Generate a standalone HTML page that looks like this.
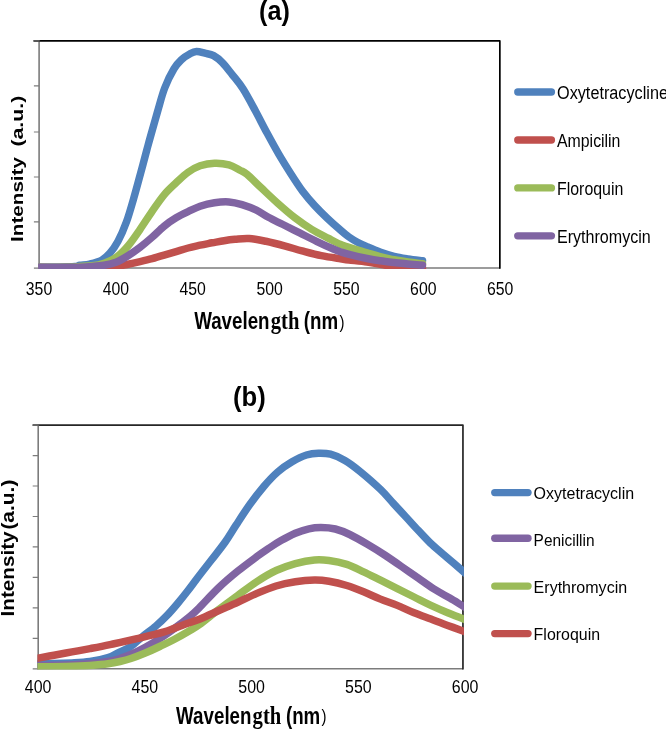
<!DOCTYPE html>
<html lang="en"><head><meta charset="utf-8"><title>Fluorescence spectra</title>
<style>html,body{margin:0;padding:0;background:#fff}svg{display:block}text{white-space:pre}g.t{opacity:.999}</style></head><body>
<svg width="666" height="729" viewBox="0 0 666 729">
<rect width="666" height="729" fill="#fff"/>
<defs><clipPath id="ca"><rect x="38.10" y="40.90" width="462.75" height="228.00"/></clipPath><clipPath id="cb"><rect x="37.40" y="425.10" width="426.55" height="244.30"/></clipPath></defs>
<g id="chart-a" class="t">
<text transform="translate(259.00 20.40) scale(1.2602 1.3586)" font-family='"Liberation Sans", sans-serif' font-size="20" font-weight="700" fill="#000">(a)</text>
<path d="M39.1 40.9V268.0H499.85" fill="none" stroke="#7c7c7c" stroke-width="1.6"/>
<path d="M33.6 40.9H499.85V268.7" fill="none" stroke="#000" stroke-width="1.7" stroke-linejoin="round"/>
<path d="M33.9 40.9H39.1M33.9 85.9H39.1M33.9 132.0H39.1M33.9 177.0H39.1M33.9 221.9H39.1M33.9 268.1H39.1" stroke="#7c7c7c" stroke-width="1.2" fill="none"/>
<path d="M33.6 40.9H40.1" stroke="#555" stroke-width="1.4" fill="none"/>
<g clip-path="url(#ca)">
<path d="M39.0 267.3C42.5 267.3 54.0 267.3 60.0 267.2C66.0 267.1 71.7 266.9 75.0 266.6C78.3 266.3 77.6 265.7 80.0 265.3C82.4 264.9 86.0 265.0 89.6 264.1C93.2 263.2 98.2 262.0 101.6 260.2C105.0 258.4 107.1 256.4 109.8 253.3C112.5 250.2 115.2 246.5 118.0 241.3C120.8 236.1 123.8 229.3 126.4 222.1C129.0 214.9 131.5 206.0 133.8 198.0C136.1 190.0 138.2 182.0 140.4 174.0C142.6 166.0 145.1 156.3 146.8 150.0C148.5 143.7 148.8 142.4 150.6 136.1C152.4 129.8 155.1 120.1 157.4 112.1C159.8 104.1 161.9 95.2 164.7 88.0C167.5 80.8 171.1 73.6 174.0 68.8C176.9 64.0 179.4 61.7 182.0 59.2C184.6 56.7 187.4 55.2 189.8 53.9C192.2 52.6 194.0 51.6 196.5 51.5C199.0 51.4 202.1 52.5 204.9 53.2C207.8 53.9 210.7 54.0 213.6 55.6C216.5 57.2 219.5 59.6 222.6 62.8C225.7 66.0 229.0 70.5 232.4 74.8C235.8 79.1 239.2 82.8 243.0 88.8C246.8 94.8 251.2 103.1 255.2 110.5C259.2 117.9 263.2 125.9 267.2 133.3C271.2 140.7 275.2 148.1 279.2 154.9C283.2 161.7 287.1 167.9 291.0 174.0C294.9 180.1 298.7 186.0 302.6 191.3C306.6 196.6 310.6 201.2 314.7 205.6C318.8 210.0 322.8 214.0 327.0 218.0C331.2 222.0 336.3 226.5 340.0 229.7C343.7 232.9 346.0 234.9 349.0 237.0C352.0 239.1 355.0 240.9 358.0 242.5C361.0 244.1 363.3 245.1 367.0 246.7C370.7 248.3 375.5 250.4 380.0 252.0C384.5 253.6 389.3 255.1 394.0 256.3C398.7 257.5 403.2 258.2 408.0 259.0C412.8 259.8 420.1 260.5 422.5 260.8" fill="none" stroke="#4F81BD" stroke-width="7.5" stroke-linecap="round" stroke-linejoin="round"/>
<path d="M39.0 267.6C49.2 267.6 87.2 267.8 100.0 267.6C112.8 267.4 111.3 267.0 116.0 266.4C120.7 265.8 124.0 265.0 128.0 264.2C132.0 263.4 136.1 262.5 140.1 261.6C144.1 260.7 148.1 259.8 152.1 258.7C156.1 257.6 160.1 256.4 164.1 255.2C168.1 254.0 172.1 252.8 176.1 251.6C180.1 250.4 184.1 249.1 188.1 248.0C192.1 246.9 196.1 246.1 200.1 245.2C204.1 244.3 208.1 243.6 212.1 242.8C216.1 242.1 220.3 241.3 224.1 240.7C227.9 240.1 230.8 239.7 235.0 239.3C239.2 239.0 244.0 238.3 249.2 238.6C254.4 238.9 260.0 240.1 266.0 241.3C272.0 242.6 279.3 244.5 285.3 246.1C291.3 247.7 296.1 249.3 302.1 250.9C308.1 252.5 314.9 254.4 321.3 255.7C327.7 257.0 335.9 258.1 340.5 258.8C345.1 259.5 344.6 259.5 349.0 260.0C353.4 260.5 361.8 261.3 367.0 262.0C372.2 262.7 375.5 263.5 380.0 264.2C384.5 264.9 389.3 265.9 394.0 266.4C398.7 266.9 403.2 267.1 408.0 267.3C412.8 267.5 420.1 267.7 422.5 267.8" fill="none" stroke="#C0504D" stroke-width="7.5" stroke-linecap="round" stroke-linejoin="round"/>
<path d="M39.0 267.3C44.2 267.2 63.2 267.1 70.0 267.0C76.8 266.9 76.3 266.6 80.0 266.4C83.7 266.2 88.0 266.3 92.0 265.8C96.0 265.3 100.0 264.6 104.0 263.2C108.0 261.8 112.0 260.5 116.0 257.6C120.0 254.7 124.0 250.7 128.0 246.0C132.0 241.3 136.1 235.1 140.1 229.3C144.1 223.5 148.1 217.1 152.1 211.3C156.1 205.6 160.1 199.6 164.1 194.8C168.1 190.1 172.1 186.6 176.1 182.8C180.1 179.1 184.1 175.1 188.1 172.3C192.1 169.5 195.7 167.3 200.1 165.8C204.5 164.3 209.7 163.3 214.5 163.2C219.3 163.0 224.8 163.7 229.0 164.9C233.2 166.1 237.0 168.6 240.0 170.2C243.0 171.8 243.3 171.3 246.8 174.2C250.3 177.1 256.0 182.9 261.2 187.8C266.4 192.7 272.4 198.5 278.0 203.5C283.6 208.5 289.3 213.5 294.9 217.8C300.5 222.1 306.1 226.0 311.7 229.4C317.3 232.8 323.8 235.9 328.5 238.4C333.2 240.9 336.6 242.8 340.0 244.3C343.4 245.8 344.5 245.9 349.0 247.3C353.5 248.7 361.8 251.3 367.0 252.8C372.2 254.3 375.5 255.3 380.0 256.5C384.5 257.6 389.3 258.8 394.0 259.7C398.7 260.6 403.2 261.3 408.0 262.0C412.8 262.7 420.1 263.5 422.5 263.8" fill="none" stroke="#9BBB59" stroke-width="7.5" stroke-linecap="round" stroke-linejoin="round"/>
<path d="M39.0 267.3C45.8 267.3 71.2 267.3 80.0 267.2C88.8 267.1 88.0 266.8 92.0 266.5C96.0 266.2 100.0 266.0 104.0 265.3C108.0 264.6 112.0 263.8 116.0 262.2C120.0 260.6 124.0 258.2 128.0 255.7C132.0 253.2 136.1 250.4 140.1 247.3C144.1 244.2 148.1 240.8 152.1 237.3C156.1 233.8 160.1 229.4 164.1 226.2C168.1 222.9 172.1 220.2 176.1 217.8C180.1 215.4 184.1 213.5 188.1 211.6C192.1 209.7 195.7 207.7 200.1 206.2C204.5 204.7 209.7 203.4 214.5 202.7C219.3 202.0 224.4 201.6 229.0 201.9C233.6 202.2 237.4 203.2 242.0 204.6C246.6 206.0 252.0 208.0 256.4 210.1C260.8 212.2 264.0 214.9 268.4 217.3C272.8 219.7 277.7 221.9 282.9 224.5C288.1 227.1 294.1 230.1 299.7 232.9C305.3 235.7 310.9 238.6 316.5 241.3C322.1 244.0 329.2 247.2 333.3 249.0C337.4 250.8 338.2 251.1 341.0 252.0C343.8 252.9 345.8 253.6 350.1 254.7C354.4 255.8 362.0 257.5 367.0 258.5C372.0 259.5 375.5 260.1 380.0 260.8C384.5 261.5 389.3 262.0 394.0 262.5C398.7 263.0 403.2 263.6 408.0 264.0C412.8 264.4 420.1 265.0 422.5 265.2" fill="none" stroke="#8064A2" stroke-width="7.5" stroke-linecap="round" stroke-linejoin="round"/>
</g>
<text transform="translate(25.80 295.10) scale(0.7914 0.9169)" font-family='"Liberation Sans", sans-serif' font-size="20" font-weight="400" fill="#000">350</text>
<text transform="translate(102.66 295.10) scale(0.7914 0.9169)" font-family='"Liberation Sans", sans-serif' font-size="20" font-weight="400" fill="#000">400</text>
<text transform="translate(179.52 295.10) scale(0.7914 0.9169)" font-family='"Liberation Sans", sans-serif' font-size="20" font-weight="400" fill="#000">450</text>
<text transform="translate(256.38 295.10) scale(0.7914 0.9169)" font-family='"Liberation Sans", sans-serif' font-size="20" font-weight="400" fill="#000">500</text>
<text transform="translate(333.24 295.10) scale(0.7914 0.9169)" font-family='"Liberation Sans", sans-serif' font-size="20" font-weight="400" fill="#000">550</text>
<text transform="translate(410.10 295.10) scale(0.7914 0.9169)" font-family='"Liberation Sans", sans-serif' font-size="20" font-weight="400" fill="#000">600</text>
<text transform="translate(486.96 295.10) scale(0.7914 0.9169)" font-family='"Liberation Sans", sans-serif' font-size="20" font-weight="400" fill="#000">650</text>
<text transform="translate(194.20 328.80) scale(0.9378 1.1655)" font-family='"Liberation Sans", sans-serif' font-size="20" font-weight="700" fill="#000">Wavelen<tspan x="81.57" font-family='"Liberation Serif", serif' font-size="22.00">gth </tspan><tspan x="116.87">(nm</tspan><tspan x="155.04" dy="-1.12" font-weight="400" font-size="16.00">)</tspan></text>
<text transform="translate(22.50 241.90) rotate(-90) scale(1.0323 0.8276)" font-family='"Liberation Sans", sans-serif' font-size="20" font-weight="700" fill="#000" xml:space="preserve">Intensity</text>
<text transform="translate(22.50 146.60) rotate(-90) scale(1.0674 0.8276)" font-family='"Liberation Sans", sans-serif' font-size="20" font-weight="700" fill="#000" xml:space="preserve">(a.u.)</text>
<path d="M517.8 92.00H551.4" stroke="#4F81BD" stroke-width="7.4" stroke-linecap="round" fill="none"/>
<text transform="translate(557.00 99.00) scale(0.8120 0.9103)" font-family='"Liberation Sans", sans-serif' font-size="20" font-weight="400" fill="#000">Oxytetracycline</text>
<path d="M517.8 139.95H551.4" stroke="#C0504D" stroke-width="7.4" stroke-linecap="round" fill="none"/>
<text transform="translate(557.00 146.95) scale(0.7936 0.9103)" font-family='"Liberation Sans", sans-serif' font-size="20" font-weight="400" fill="#000">Ampicilin</text>
<path d="M517.8 187.90H551.4" stroke="#9BBB59" stroke-width="7.4" stroke-linecap="round" fill="none"/>
<text transform="translate(557.00 194.90) scale(0.7964 0.9103)" font-family='"Liberation Sans", sans-serif' font-size="20" font-weight="400" fill="#000">Floroquin</text>
<path d="M517.8 235.85H551.4" stroke="#8064A2" stroke-width="7.4" stroke-linecap="round" fill="none"/>
<text transform="translate(557.00 242.85) scale(0.8038 0.9103)" font-family='"Liberation Sans", sans-serif' font-size="20" font-weight="400" fill="#000">Erythromycin</text>
</g>
<g id="chart-b" class="t">
<text transform="translate(233.00 406.00) scale(1.2843 1.3862)" font-family='"Liberation Sans", sans-serif' font-size="20" font-weight="700" fill="#000">(b)</text>
<path d="M38.2 425.1V668.8H462.95" fill="none" stroke="#7c7c7c" stroke-width="1.6"/>
<path d="M32.7 425.1H462.95V669.5" fill="none" stroke="#262626" stroke-width="1.7" stroke-linejoin="round"/>
<path d="M32.7 425.10H38.2M32.7 455.56H38.2M32.7 486.02H38.2M32.7 516.49H38.2M32.7 546.95H38.2M32.7 577.41H38.2M32.7 607.88H38.2M32.7 638.34H38.2M32.7 668.80H38.2" stroke="#7c7c7c" stroke-width="1.2" fill="none"/>
<path d="M32.7 425.1H39.2" stroke="#666" stroke-width="1.4" fill="none"/>
<g clip-path="url(#cb)">
<path d="M36.0 663.8C36.4 663.8 35.4 663.8 38.4 663.8C41.4 663.8 48.4 663.6 54.0 663.5C59.6 663.4 66.0 663.2 72.0 662.9C78.0 662.6 84.0 662.4 90.0 661.5C96.0 660.6 103.3 659.0 108.0 657.5C112.7 656.0 114.3 654.6 118.0 652.8C121.7 651.0 126.2 649.5 130.3 646.8C134.4 644.1 138.1 640.1 142.4 636.6C146.7 633.1 151.8 629.5 155.9 626.0C160.0 622.5 163.2 619.5 166.8 615.7C170.4 612.0 174.0 607.8 177.6 603.5C181.2 599.2 185.3 594.0 188.4 590.0C191.5 586.0 192.6 584.4 196.3 579.5C200.0 574.6 206.0 567.0 210.8 560.8C215.6 554.5 221.0 548.0 225.2 542.0C229.4 536.0 232.1 531.1 236.2 524.9C240.3 518.6 245.2 510.9 249.8 504.5C254.4 498.1 259.2 491.9 263.8 486.5C268.4 481.1 273.0 476.1 277.7 472.0C282.4 467.9 287.3 464.6 292.1 461.8C296.9 459.0 302.1 456.4 306.5 455.0C310.9 453.6 314.5 453.3 318.5 453.2C322.5 453.1 326.1 453.0 330.5 454.2C334.9 455.4 340.1 457.6 344.9 460.4C349.7 463.2 353.4 466.0 359.3 470.8C365.2 475.6 374.9 484.0 380.5 489.4C386.1 494.8 388.9 498.6 393.1 503.1C397.3 507.7 401.5 512.2 405.7 516.7C409.9 521.2 413.9 525.8 418.3 530.4C422.7 535.0 427.1 540.0 432.0 544.6C436.9 549.2 442.4 553.6 447.7 558.1C453.0 562.6 460.5 569.0 463.7 571.8C466.9 574.5 466.4 574.1 467.0 574.6" fill="none" stroke="#4F81BD" stroke-width="7.5" stroke-linecap="butt" stroke-linejoin="round"/>
<path d="M36.0 665.5C36.4 665.5 33.4 665.6 38.4 665.5C43.4 665.4 57.4 665.3 66.0 665.0C74.6 664.7 83.0 664.4 90.0 663.8C97.0 663.2 103.0 662.4 108.0 661.5C113.0 660.6 116.2 659.7 120.0 658.5C123.8 657.3 126.7 656.4 130.9 654.5C135.1 652.6 140.5 649.9 145.3 647.3C150.1 644.6 154.9 641.7 159.7 638.6C164.5 635.5 169.0 632.3 174.1 628.6C179.2 624.9 185.8 619.8 190.0 616.3C194.2 612.8 194.5 612.5 199.2 607.8C203.9 603.1 212.0 594.1 218.4 588.0C224.8 581.9 231.3 576.4 237.7 571.2C244.1 566.0 251.5 560.6 256.9 556.6C262.3 552.6 266.0 550.2 270.0 547.5C274.0 544.8 276.8 543.0 281.0 540.6C285.2 538.2 290.7 535.2 295.3 533.2C299.9 531.2 304.6 529.8 308.9 528.8C313.2 527.8 316.5 527.5 320.9 527.5C325.3 527.5 330.5 527.8 335.3 529.0C340.1 530.2 344.3 531.9 349.7 534.5C355.1 537.1 362.0 541.1 367.8 544.5C373.6 547.9 379.1 551.3 384.7 555.0C390.3 558.7 395.9 562.6 401.5 566.5C407.1 570.4 412.7 574.2 418.3 578.1C423.9 582.0 429.9 586.4 435.1 589.7C440.4 593.0 445.0 595.3 449.8 598.1C454.6 600.9 460.8 604.8 463.7 606.5C466.6 608.2 466.4 608.2 467.0 608.5" fill="none" stroke="#8064A2" stroke-width="7.5" stroke-linecap="butt" stroke-linejoin="round"/>
<path d="M36.0 666.8C36.4 666.8 33.4 666.8 38.4 666.8C43.4 666.8 57.4 666.7 66.0 666.5C74.6 666.3 83.0 666.0 90.0 665.5C97.0 665.0 103.0 664.5 108.0 663.8C113.0 663.1 116.2 662.4 120.0 661.5C123.8 660.6 126.7 659.9 130.9 658.5C135.1 657.1 140.5 655.0 145.3 653.0C150.1 651.0 154.9 648.8 159.7 646.5C164.5 644.2 169.0 642.2 174.1 639.5C179.2 636.8 185.8 633.0 190.0 630.5C194.2 628.0 194.5 628.2 199.2 624.8C203.9 621.3 212.0 614.7 218.4 609.8C224.8 604.9 231.3 600.2 237.7 595.5C244.1 590.8 250.5 585.8 256.9 581.6C263.3 577.4 269.7 573.5 276.1 570.5C282.5 567.5 288.9 565.4 295.3 563.6C301.7 561.9 308.9 560.5 314.5 560.0C320.1 559.5 323.6 559.8 329.0 560.5C334.4 561.2 341.0 562.5 346.8 564.4C352.6 566.3 358.0 569.2 363.6 571.8C369.2 574.4 374.9 577.4 380.5 580.2C386.1 583.0 391.7 585.8 397.3 588.6C402.9 591.4 408.5 594.2 414.1 597.0C419.7 599.8 425.3 602.8 430.9 605.4C436.5 608.0 442.2 610.5 447.7 612.8C453.2 615.1 460.5 617.8 463.7 619.1C466.9 620.4 466.4 620.2 467.0 620.4" fill="none" stroke="#9BBB59" stroke-width="7.5" stroke-linecap="butt" stroke-linejoin="round"/>
<path d="M36.0 658.6C36.4 658.5 35.4 658.7 38.4 658.1C41.4 657.5 48.4 656.2 54.0 655.2C59.6 654.2 66.0 653.0 72.0 651.9C78.0 650.8 83.7 649.8 90.0 648.6C96.3 647.4 102.2 646.3 110.0 644.6C117.8 642.9 128.0 640.7 137.0 638.6C146.0 636.5 156.2 634.2 164.1 631.9C172.0 629.5 178.3 626.7 184.3 624.5C190.3 622.3 194.3 621.2 200.0 618.9C205.7 616.6 212.1 613.6 218.4 610.8C224.7 608.0 231.3 605.2 237.7 602.3C244.1 599.4 250.5 596.1 256.9 593.4C263.3 590.7 269.7 588.0 276.1 586.0C282.5 584.0 288.9 582.7 295.3 581.7C301.7 580.7 308.9 580.1 314.5 580.0C320.1 579.9 323.6 580.3 329.0 581.2C334.4 582.1 341.0 583.7 346.8 585.5C352.6 587.3 358.0 589.5 363.6 591.8C369.2 594.1 374.9 596.8 380.5 599.1C386.1 601.4 391.7 603.1 397.3 605.4C402.9 607.7 408.5 610.5 414.1 612.8C419.7 615.1 425.3 617.0 430.9 619.1C436.5 621.2 442.2 623.4 447.7 625.4C453.2 627.4 460.5 630.1 463.7 631.3C466.9 632.5 466.4 632.3 467.0 632.5" fill="none" stroke="#C0504D" stroke-width="7.5" stroke-linecap="butt" stroke-linejoin="round"/>
</g>
<text transform="translate(24.80 692.80) scale(0.7974 0.8954)" font-family='"Liberation Sans", sans-serif' font-size="20" font-weight="400" fill="#000">400</text>
<text transform="translate(131.55 692.80) scale(0.7974 0.8954)" font-family='"Liberation Sans", sans-serif' font-size="20" font-weight="400" fill="#000">450</text>
<text transform="translate(238.30 692.80) scale(0.7974 0.8954)" font-family='"Liberation Sans", sans-serif' font-size="20" font-weight="400" fill="#000">500</text>
<text transform="translate(345.05 692.80) scale(0.7974 0.8954)" font-family='"Liberation Sans", sans-serif' font-size="20" font-weight="400" fill="#000">550</text>
<text transform="translate(451.80 692.80) scale(0.7974 0.8954)" font-family='"Liberation Sans", sans-serif' font-size="20" font-weight="400" fill="#000">600</text>
<text transform="translate(176.10 723.60) scale(0.9378 1.1517)" font-family='"Liberation Sans", sans-serif' font-size="20" font-weight="700" fill="#000">Wavelen<tspan x="81.57" font-family='"Liberation Serif", serif' font-size="22.00">gth </tspan><tspan x="117.08">(nm</tspan><tspan x="155.04" dy="-1.13" font-weight="400" font-size="16.00">)</tspan></text>
<text transform="translate(14.30 616.40) rotate(-90) scale(1.0348 0.8759)" font-family='"Liberation Sans", sans-serif' font-size="20" font-weight="700" fill="#000" xml:space="preserve">Intensity</text>
<text transform="translate(14.30 529.60) rotate(-90) scale(1.0465 0.8759)" font-family='"Liberation Sans", sans-serif' font-size="20" font-weight="700" fill="#000" xml:space="preserve">(a.u.)</text>
<path d="M494.8 492.60H528.0" stroke="#4F81BD" stroke-width="7.4" stroke-linecap="round" fill="none"/>
<text transform="translate(533.60 499.30) scale(0.8011 0.8621)" font-family='"Liberation Sans", sans-serif' font-size="20" font-weight="400" fill="#000">Oxytetracyclin</text>
<path d="M494.8 538.30H528.0" stroke="#8064A2" stroke-width="7.4" stroke-linecap="round" fill="none"/>
<text transform="translate(533.60 546.20) scale(0.7717 0.8621)" font-family='"Liberation Sans", sans-serif' font-size="20" font-weight="400" fill="#000">Penicillin</text>
<path d="M494.8 586.10H528.0" stroke="#9BBB59" stroke-width="7.4" stroke-linecap="round" fill="none"/>
<text transform="translate(533.60 593.00) scale(0.8021 0.8621)" font-family='"Liberation Sans", sans-serif' font-size="20" font-weight="400" fill="#000">Erythromycin</text>
<path d="M494.8 633.60H528.0" stroke="#C0504D" stroke-width="7.4" stroke-linecap="round" fill="none"/>
<text transform="translate(533.60 640.20) scale(0.7976 0.8621)" font-family='"Liberation Sans", sans-serif' font-size="20" font-weight="400" fill="#000">Floroquin</text>
</g>
</svg></body></html>
